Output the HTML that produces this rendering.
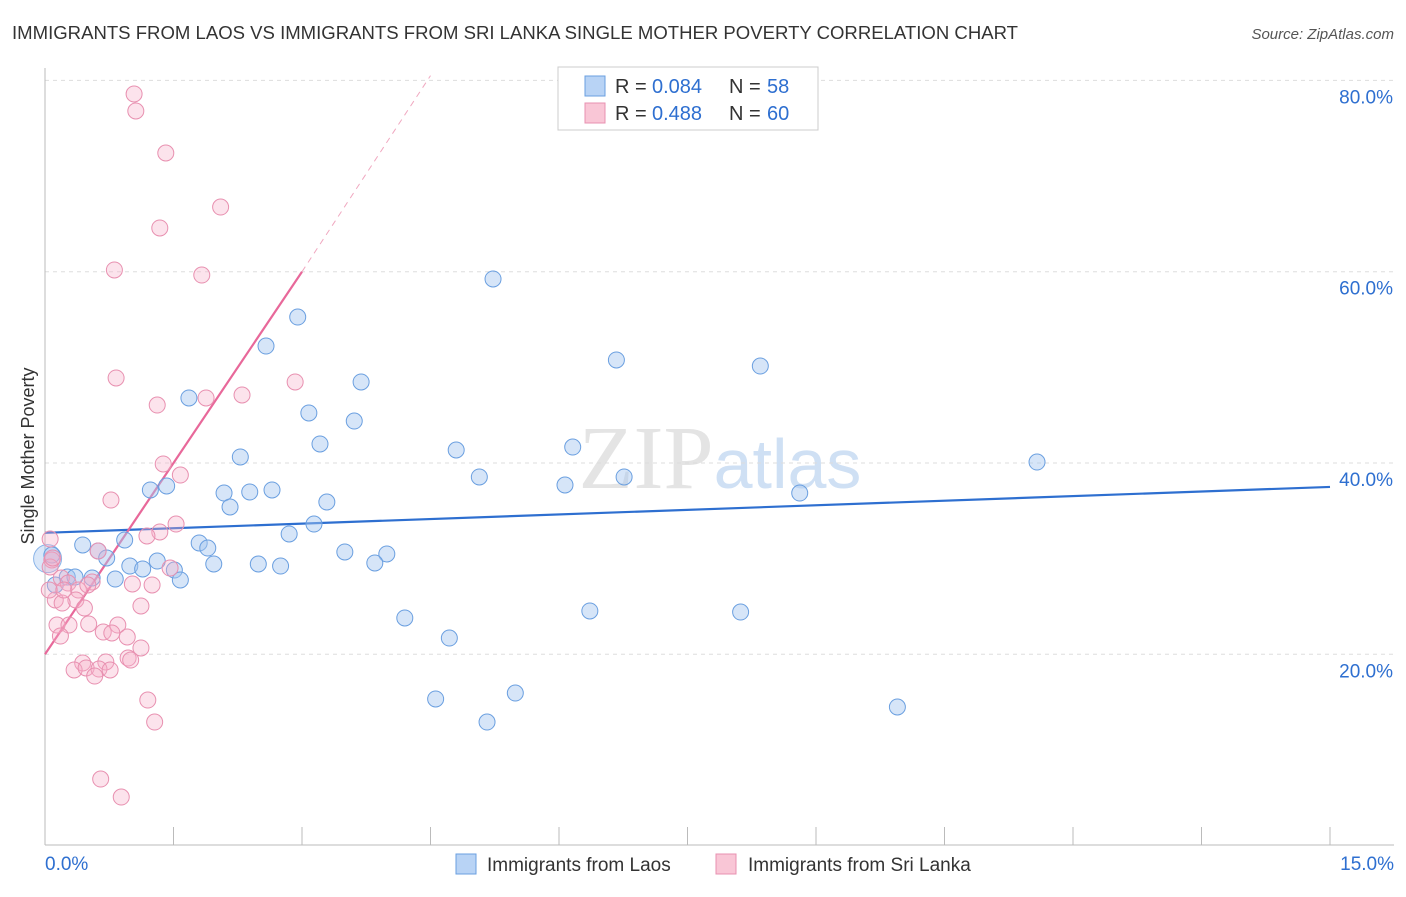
<!DOCTYPE html>
<html><head><meta charset="utf-8"><style>
body{margin:0;background:#fff;font-family:"Liberation Sans",sans-serif;}
</style></head><body>
<svg id="chart" width="1406" height="892" xmlns="http://www.w3.org/2000/svg" font-family="Liberation Sans, sans-serif">
<text x="12" y="39" font-size="18" fill="#333" textLength="1006" lengthAdjust="spacingAndGlyphs">IMMIGRANTS FROM LAOS VS IMMIGRANTS FROM SRI LANKA SINGLE MOTHER POVERTY CORRELATION CHART</text>
<text x="1394" y="39" font-size="15" fill="#555" text-anchor="end" font-style="italic">Source: ZipAtlas.com</text>
<text x="720" y="488" font-size="90" text-anchor="middle" fill="#e4e4e4" font-family="Liberation Serif, serif">ZIP<tspan fill="#cfe0f4" font-family="Liberation Sans, sans-serif" font-size="70">atlas</tspan></text>
<g id="grid"></g><g id="axes"></g><g id="trend"></g><g id="pts"></g>
<text transform="translate(34,456) rotate(-90)" text-anchor="middle" font-size="18" fill="#333">Single Mother Poverty</text>
<g>
<rect x="558" y="67" width="260" height="63" fill="#fff" stroke="#ccc"/>
<rect x="585" y="76" width="20" height="20" fill="#b8d3f5" stroke="#6a9fe0"/>
<text x="615" y="93" font-size="20" fill="#333">R =</text>
<text x="652" y="93" font-size="20" fill="#2e6fd0">0.084</text>
<text x="729" y="93" font-size="20" fill="#333">N =</text>
<text x="767" y="93" font-size="20" fill="#2e6fd0">58</text>
<rect x="585" y="103" width="20" height="20" fill="#f9c6d6" stroke="#e890b0"/>
<text x="615" y="120" font-size="20" fill="#333">R =</text>
<text x="652" y="120" font-size="20" fill="#2e6fd0">0.488</text>
<text x="729" y="120" font-size="20" fill="#333">N =</text>
<text x="767" y="120" font-size="20" fill="#2e6fd0">60</text>
</g>
<g>
<rect x="456" y="854" width="20" height="20" fill="#b8d3f5" stroke="#6a9fe0"/>
<text x="487" y="871" font-size="19" fill="#333">Immigrants from Laos</text>
<rect x="716" y="854" width="20" height="20" fill="#f9c6d6" stroke="#e890b0"/>
<text x="748" y="871" font-size="19" fill="#333">Immigrants from Sri Lanka</text>
</g>
</svg>
<script>
const blueX=[5.23,2.95,2.58,6.67,8.35,3.69,1.68,3.08,3.61,3.21,4.80,2.28,11.58,6.16,5.07,6.76,6.07,8.81,1.23,1.42,2.09,2.39,2.65,2.16,3.29,3.14,2.85,0.93,0.44,1.80,1.90,0.62,0.72,1.31,3.50,3.99,3.85,1.97,2.49,2.75,0.99,1.14,1.51,1.58,0.26,0.35,0.55,0.82,0.08,0.12,6.36,8.12,4.20,4.72,5.49,4.56,5.16,9.95];
const blueY=[59.24,55.26,52.23,50.77,50.14,48.47,46.80,45.23,44.39,41.99,41.36,40.63,40.10,41.67,38.54,38.54,37.70,36.86,37.18,37.60,36.86,36.97,37.18,35.40,35.92,33.62,32.58,31.95,31.43,31.64,31.11,30.80,30.07,29.75,30.70,30.49,29.55,29.44,29.44,29.23,29.23,28.92,28.81,27.77,28.08,28.08,27.98,27.87,30.38,27.25,24.53,24.42,23.80,21.70,15.95,15.33,12.92,14.49];
const pinkX=[1.04,1.06,1.41,2.05,1.34,0.81,1.83,2.92,0.83,2.30,1.88,1.31,1.38,1.58,0.77,1.53,1.34,1.19,0.06,0.62,0.08,0.06,1.46,0.19,0.55,0.27,1.02,1.25,0.39,0.50,0.12,0.36,0.20,0.46,1.12,0.14,0.28,0.51,0.85,0.18,0.68,0.78,0.96,1.12,0.71,0.44,0.97,0.34,0.48,0.63,0.76,1.00,0.58,1.20,1.28,0.65,0.89,0.09,0.05,0.22];
const pinkY=[78.58,76.80,72.41,66.76,64.57,60.18,59.65,48.47,48.89,47.11,46.80,46.06,39.90,38.74,36.13,33.62,32.79,32.37,32.05,30.80,29.86,29.13,29.02,27.98,27.56,27.45,27.35,27.25,26.72,27.25,25.68,25.68,25.36,24.84,25.05,23.06,23.06,23.17,23.06,21.91,22.33,22.23,21.81,20.66,19.20,19.09,19.61,18.36,18.57,18.46,18.36,19.40,17.73,15.22,12.92,6.96,5.08,30.07,26.72,26.72];
const yTicks=[20,40,60,80];
const yTickLabels=["20.0%","40.0%","60.0%","80.0%"];
const blueTrend=[[0,32.7],[15,37.5]];
const pinkTrend=[[0,20.0],[3.0,60.0]];
const pinkDash=[[3.0,60.0],[4.5,80.5]];
const NS="http://www.w3.org/2000/svg";
const X=v=>45+v/15*1285, Y=v=>845.6-v*9.565;
function mk(tag,attrs,parent){const e=document.createElementNS(NS,tag);for(const k in attrs)e.setAttribute(k,attrs[k]);parent.appendChild(e);return e;}
const grid=document.getElementById('grid'),axes=document.getElementById('axes'),trend=document.getElementById('trend'),pts=document.getElementById('pts');
yTicks.forEach((t,i)=>{
 const l=mk('line',{x1:45,x2:1394,y1:Y(t),y2:Y(t),stroke:'#ddd','stroke-dasharray':'4,4'},grid);
 
 
 const tx=mk('text',{x:1393,y:Y(t)+23,'text-anchor':'end','font-size':19,fill:'#2e6fd0'},grid);
 tx.textContent=yTickLabels[i];
 
 
});
const xa=mk('line',{x1:45,x2:1394,y1:845,y2:845,stroke:'#bbb'},axes);


const ya=mk('line',{x1:45,x2:45,y1:68,y2:845,stroke:'#bbb'},axes);


for(let i=0;i<=10;i++){const t=mk('line',{x1:X(i*1.5),x2:X(i*1.5),y1:827,y2:845,stroke:'#bbb'},axes);
 
 }
const x0=mk('text',{x:45,y:870,'font-size':19,fill:'#2e6fd0'},axes);x0.textContent='0.0%';


const x1=mk('text',{x:1394,y:870,'font-size':19,fill:'#2e6fd0','text-anchor':'end'},axes);x1.textContent='15.0%';


function line(p,attrs,name){const e=mk('line',Object.assign({x1:X(p[0][0]),y1:Y(p[0][1]),x2:X(p[1][0]),y2:Y(p[1][1])},attrs),trend);
 
 }
line(pinkDash,{stroke:'#f0a8c0','stroke-width':1,'stroke-dasharray':'6,5'},'sri-lanka-trend-extension');
line(blueTrend,{stroke:'#2e6fd0','stroke-width':2.2},'laos-trend-line');
line(pinkTrend,{stroke:'#e8689a','stroke-width':2.2},'sri-lanka-trend-line');
const big=mk('circle',{cx:X(0.03),cy:Y(30.0),r:14,fill:'rgba(160,196,240,0.4)',stroke:'#8ab4e8'},pts);


blueX.forEach((v,i)=>{const c=mk('circle',{cx:X(v),cy:Y(blueY[i]),r:8,fill:'rgba(165,198,240,0.45)',stroke:'#6a9fe0','stroke-width':1},pts);
 
 });
pinkX.forEach((v,i)=>{const c=mk('circle',{cx:X(v),cy:Y(pinkY[i]),r:8,fill:'rgba(246,176,200,0.35)',stroke:'#e890b0','stroke-width':1},pts);
 
 });
</script>
</body></html>
